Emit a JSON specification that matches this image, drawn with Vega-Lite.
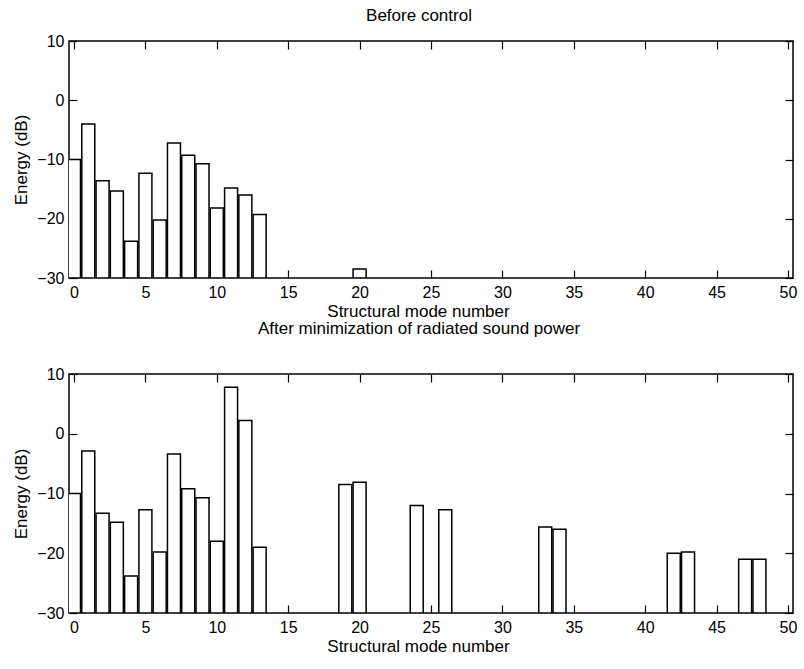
{
  "$schema": "https://vega.github.io/schema/vega-lite/v6.json",
  "padding": {"left": 12, "top": 6, "right": 5, "bottom": 5},
  "background": "white",
  "bounds": "flush",
  "spacing": 96,
  "config": {
    "font": "Liberation Sans",
    "view": {"stroke": "black", "strokeWidth": 1.5},
    "axis": {
      "domain": false,
      "grid": false,
      "tickColor": "black",
      "tickSize": -8,
      "tickWidth": 1.2,
      "labelColor": "black",
      "labelFontSize": 16,
      "titleFontSize": 17,
      "titleFontWeight": "normal",
      "titleColor": "black"
    },
    "title": {"fontSize": 17, "fontWeight": "normal", "color": "black"}
  },
  "datasets": {
    "before": [
      {"mode": 0, "energy": -10},
      {"mode": 1, "energy": -4},
      {"mode": 2, "energy": -13.6},
      {"mode": 3, "energy": -15.3},
      {"mode": 4, "energy": -23.8},
      {"mode": 5, "energy": -12.3},
      {"mode": 6, "energy": -20.2},
      {"mode": 7, "energy": -7.2},
      {"mode": 8, "energy": -9.3},
      {"mode": 9, "energy": -10.7},
      {"mode": 10, "energy": -18.2},
      {"mode": 11, "energy": -14.8},
      {"mode": 12, "energy": -16},
      {"mode": 13, "energy": -19.3},
      {"mode": 20, "energy": -28.5}
    ],
    "after": [
      {"mode": 0, "energy": -10},
      {"mode": 1, "energy": -2.9},
      {"mode": 2, "energy": -13.3},
      {"mode": 3, "energy": -14.8},
      {"mode": 4, "energy": -23.8},
      {"mode": 5, "energy": -12.7},
      {"mode": 6, "energy": -19.8},
      {"mode": 7, "energy": -3.4},
      {"mode": 8, "energy": -9.2},
      {"mode": 9, "energy": -10.7},
      {"mode": 10, "energy": -18},
      {"mode": 11, "energy": 7.8},
      {"mode": 12, "energy": 2.2},
      {"mode": 13, "energy": -19},
      {"mode": 19, "energy": -8.5},
      {"mode": 20, "energy": -8.1},
      {"mode": 24, "energy": -12},
      {"mode": 26, "energy": -12.7},
      {"mode": 33, "energy": -15.6},
      {"mode": 34, "energy": -16},
      {"mode": 42, "energy": -20},
      {"mode": 43, "energy": -19.8},
      {"mode": 47, "energy": -21},
      {"mode": 48, "energy": -21}
    ]
  },
  "vconcat": [
    {
      "width": 724,
      "height": 237,
      "title": {"text": "Before control", "offset": 8, "dx": -12},
      "data": {"name": "before"},
      "layer": [
        {
          "mark": {"type": "bar", "size": 13, "fill": "white", "stroke": "black", "strokeWidth": 1.5, "clip": true},
          "encoding": {
            "x": {"field": "mode", "type": "quantitative", "scale": {"domain": [0, 50], "nice": false},
              "axis": {"orient": "bottom", "values": [0,5,10,15,20,25,30,35,40,45,50], "title": "Structural mode number", "labelPadding": 14, "titlePadding": 3, "titleX": 349}},
            "y": {"field": "energy", "type": "quantitative", "scale": {"domain": [-30, 10], "nice": false},
              "axis": {"orient": "left", "values": [-30,-20,-10,0,10], "title": "Energy (dB)", "labelPadding": 13, "titlePadding": 6}},
            "y2": {"datum": -30}
          }
        },
        {
          "mark": {"type": "point", "opacity": 0},
          "encoding": {
            "x": {"field": "mode", "type": "quantitative", "axis": {"orient": "top", "values": [0,5,10,15,20,25,30,35,40,45,50], "labels": false, "title": null}},
            "y": {"field": "energy", "type": "quantitative", "axis": {"orient": "right", "values": [-30,-20,-10,0,10], "labels": false, "title": null}}
          }
        }
      ],
      "resolve": {"axis": {"x": "independent", "y": "independent"}}
    },
    {
      "width": 724,
      "height": 239,
      "title": {"text": "After minimization of radiated sound power", "offset": 28, "dx": -12},
      "data": {"name": "after"},
      "layer": [
        {
          "mark": {"type": "bar", "size": 13, "fill": "white", "stroke": "black", "strokeWidth": 1.5, "clip": true},
          "encoding": {
            "x": {"field": "mode", "type": "quantitative", "scale": {"domain": [0, 50], "nice": false},
              "axis": {"orient": "bottom", "values": [0,5,10,15,20,25,30,35,40,45,50], "title": "Structural mode number", "labelPadding": 14, "titlePadding": 3, "titleX": 349}},
            "y": {"field": "energy", "type": "quantitative", "scale": {"domain": [-30, 10], "nice": false},
              "axis": {"orient": "left", "values": [-30,-20,-10,0,10], "title": "Energy (dB)", "labelPadding": 13, "titlePadding": 6}},
            "y2": {"datum": -30}
          }
        },
        {
          "mark": {"type": "point", "opacity": 0},
          "encoding": {
            "x": {"field": "mode", "type": "quantitative", "axis": {"orient": "top", "values": [0,5,10,15,20,25,30,35,40,45,50], "labels": false, "title": null}},
            "y": {"field": "energy", "type": "quantitative", "axis": {"orient": "right", "values": [-30,-20,-10,0,10], "labels": false, "title": null}}
          }
        }
      ],
      "resolve": {"axis": {"x": "independent", "y": "independent"}}
    }
  ]
}
